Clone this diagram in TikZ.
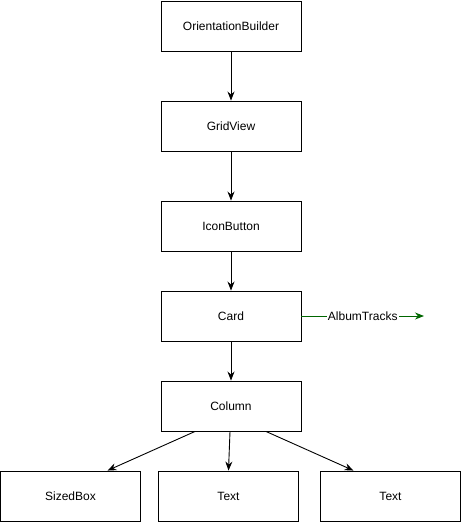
\documentclass[tikz,border=0pt]{standalone}
\usepackage{fontspec}
\setmainfont{Liberation Sans}
\usetikzlibrary{arrows.meta}

\tikzset{
  widget/.style={draw, line width=0.9pt, minimum width=140pt, minimum height=50pt, inner sep=0pt, font=\fontsize{12}{14}\selectfont},
  link/.style={draw, line width=0.9pt, -{Stealth[length=9pt,width=7pt]}}
}

\begin{document}
\begin{tikzpicture}[x=1pt, y=-1pt]
  \useasboundingbox (0,0) rectangle (463,523);
  % Main chain
  \node[widget] (orient) at (231,26) {OrientationBuilder};
  \node[widget] (grid) at (231,126) {GridView};
  \node[widget] (icon) at (231,226) {IconButton};
  \node[widget] (card) at (231,316) {Card};
  \node[widget] (column) at (231,406) {Column};
  % Lower row
  \node[widget] (sized) at (70.5,496) {SizedBox};
  \node[widget] (textA) at (228.5,496) {Text};
  \node[widget] (textB) at (390.5,496) {Text};
  \foreach \a/\b in {orient/grid, grid/icon, icon/card, card/column} {
    \draw[link] (\a) -- (\b);
  }
  \draw[link] ([xshift=-36pt]column.south) -- ([xshift=37pt]sized.north);
  \draw[link] ([xshift=-1pt]column.south) -- (textA.north);
  \draw[link] ([xshift=35pt]column.south) -- ([xshift=-37pt]textB.north);
  % Side link
  \coordinate (tracks) at (424,316);
  \draw[link, draw=green!40!black, fill=green!40!black] (card) -- (tracks)
    node[pos=0.5, fill=white, inner sep=1pt, text=black, font=\fontsize{12}{14}\selectfont] {AlbumTracks};
\end{tikzpicture}
\end{document}
